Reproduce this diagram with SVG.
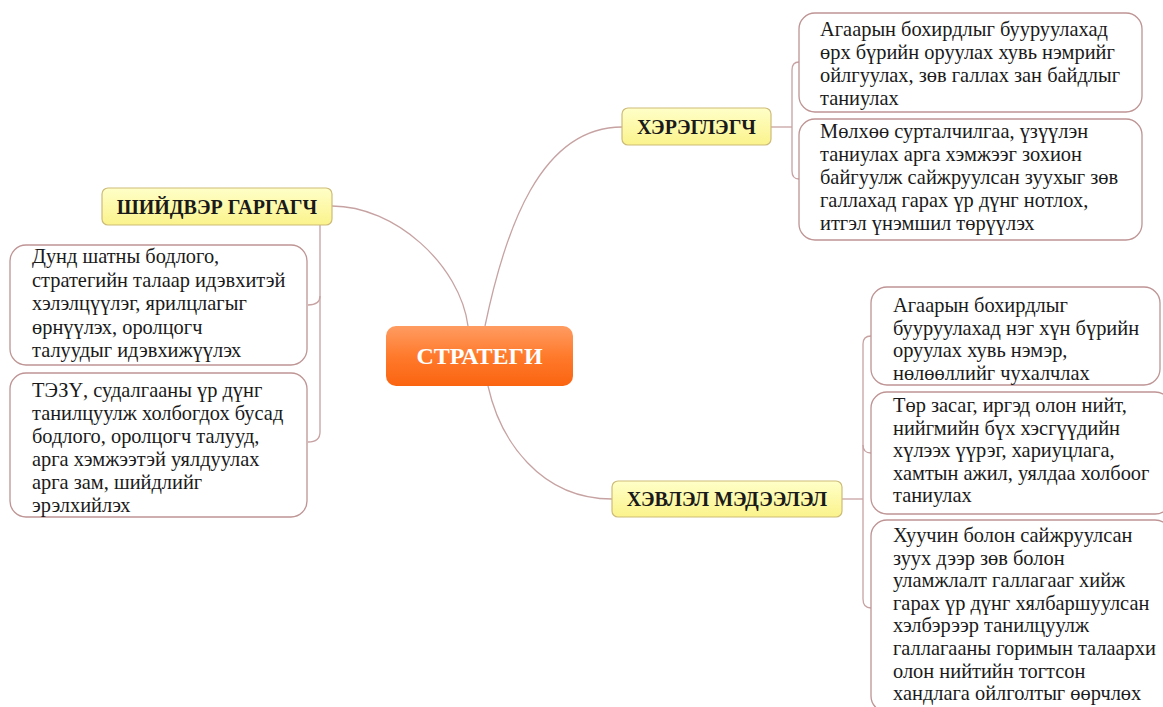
<svg xmlns="http://www.w3.org/2000/svg" width="1163" height="707" viewBox="0 0 1163 707">
<defs>
<linearGradient id="gOrange" x1="0" y1="0" x2="0" y2="1">
<stop offset="0" stop-color="#FF9C62"/>
<stop offset="0.5" stop-color="#FF7A2C"/>
<stop offset="1" stop-color="#FA6410"/>
</linearGradient>
<linearGradient id="gYellow" x1="0" y1="0" x2="0" y2="1">
<stop offset="0" stop-color="#FFFFC8"/>
<stop offset="1" stop-color="#FBF38C"/>
</linearGradient>
<style>
.conn{fill:none;stroke:#C7A2A2;stroke-width:1.3}
.leaf{fill:#FFFFFF;stroke:#BE9494;stroke-width:1.3}
.branch{fill:url(#gYellow);stroke:#CDBB78;stroke-width:1.2}
.lt{font-family:'Liberation Serif','DejaVu Serif',serif;font-size:20.4px;fill:#1A1A1A}
.bt{font-family:'Liberation Serif','DejaVu Serif',serif;font-size:20px;font-weight:bold;fill:#1A1A1A;text-anchor:middle}
.ct{font-family:'Liberation Serif','DejaVu Serif',serif;font-size:24px;font-weight:bold;fill:#FFFFFF;text-anchor:middle}
</style>
</defs>
<rect width="1163" height="707" fill="#FFFFFF"/>
<g id="connectors">
<path class="conn" d="M332,206 C395,206 460,265 468,326"/>
<path class="conn" d="M485,326 C505,230 540,127 622,127"/>
<path class="conn" d="M488,386 C500,440 540,499 612,499"/>
<path class="conn" d="M771,127 H792"/>
<path class="conn" d="M799,62 Q792,62 792,70 V171 Q792,179 799,179"/>
<path class="conn" d="M320,225 V296 Q320,305 308,305"/>
<path class="conn" d="M320,296 V432 Q320,442 308,442"/>
<path class="conn" d="M842,499 H863"/>
<path class="conn" d="M871,336 Q863,336 863,344 V599 Q863,608 871,608"/>
<path class="conn" d="M863,445 Q863,453 871,453"/>
</g>
<g id="center">
<rect x="386" y="326" width="187" height="60" rx="10" fill="url(#gOrange)"/>
<text class="ct" x="479.5" y="364">СТРАТЕГИ</text>
</g>
<g id="hereglegch">
<rect class="branch" x="622" y="108" width="149" height="37" rx="6"/>
<text class="bt" x="696.5" y="134">ХЭРЭГЛЭГЧ</text>
</g>
<g id="shiidver">
<rect class="branch" x="102" y="188" width="230" height="37" rx="6"/>
<text class="bt" x="217" y="214">ШИЙДВЭР ГАРГАГЧ</text>
</g>
<g id="hevlel">
<rect class="branch" x="612" y="481" width="230" height="36" rx="6"/>
<text class="bt" x="727" y="506">ХЭВЛЭЛ МЭДЭЭЛЭЛ</text>
</g>
<g id="h1">
<rect class="leaf" x="799" y="13" width="343" height="99" rx="16"/>
<text class="lt" x="820" y="36"><tspan x="820">Агаарын бохирдлыг бууруулахад</tspan><tspan x="820" dy="23">өрх бүрийн оруулах хувь нэмрийг</tspan><tspan x="820" dy="23">ойлгуулах, зөв галлах зан байдлыг</tspan><tspan x="820" dy="23">таниулах</tspan></text>
</g>
<g id="h2">
<rect class="leaf" x="799" y="119" width="343" height="121" rx="16"/>
<text class="lt" x="820" y="138"><tspan x="820">Мөлхөө сурталчилгаа, үзүүлэн</tspan><tspan x="820" dy="23">таниулах арга хэмжээг зохион</tspan><tspan x="820" dy="23">байгуулж сайжруулсан зуухыг зөв</tspan><tspan x="820" dy="23">галлахад гарах үр дүнг нотлох,</tspan><tspan x="820" dy="23">итгэл үнэмшил төрүүлэх</tspan></text>
</g>
<g id="s1">
<rect class="leaf" x="10" y="245" width="297" height="120" rx="16"/>
<text class="lt" x="32" y="263"><tspan x="32">Дунд шатны бодлого,</tspan><tspan x="32" dy="23.5">стратегийн талаар идэвхитэй</tspan><tspan x="32" dy="23.5">хэлэлцүүлэг, ярилцлагыг</tspan><tspan x="32" dy="23.5">өрнүүлэх, оролцогч</tspan><tspan x="32" dy="23.5">талуудыг идэвхижүүлэх</tspan></text>
</g>
<g id="s2">
<rect class="leaf" x="10" y="373" width="297" height="144" rx="16"/>
<text class="lt" x="32" y="397"><tspan x="32">ТЭЗҮ, судалгааны үр дүнг</tspan><tspan x="32" dy="23">танилцуулж холбогдох бусад</tspan><tspan x="32" dy="23">бодлого, оролцогч талууд,</tspan><tspan x="32" dy="23">арга хэмжээтэй уялдуулах</tspan><tspan x="32" dy="23">арга зам, шийдлийг</tspan><tspan x="32" dy="23">эрэлхийлэх</tspan></text>
</g>
<g id="m1">
<rect class="leaf" x="871" y="287" width="289" height="98" rx="16"/>
<text class="lt" x="893" y="312"><tspan x="893">Агаарын бохирдлыг</tspan><tspan x="893" dy="22.5">бууруулахад нэг хүн бүрийн</tspan><tspan x="893" dy="22.5">оруулах хувь нэмэр,</tspan><tspan x="893" dy="22.5">нөлөөллийг чухалчлах</tspan></text>
</g>
<g id="m2">
<rect class="leaf" x="871" y="392" width="300" height="122" rx="16"/>
<text class="lt" x="893" y="412"><tspan x="893">Төр засаг, иргэд олон нийт,</tspan><tspan x="893" dy="22.5">нийгмийн бүх хэсгүүдийн</tspan><tspan x="893" dy="22.5">хүлээх үүрэг, хариуцлага,</tspan><tspan x="893" dy="22.5">хамтын ажил, уялдаа холбоог</tspan><tspan x="893" dy="22.5">таниулах</tspan></text>
</g>
<g id="m3">
<rect class="leaf" x="871" y="520" width="300" height="192" rx="16"/>
<text class="lt" x="893" y="542"><tspan x="893">Хуучин болон сайжруулсан</tspan><tspan x="893" dy="22.6">зуух дээр зөв болон</tspan><tspan x="893" dy="22.6">уламжлалт галлагааг хийж</tspan><tspan x="893" dy="22.6">гарах үр дүнг хялбаршуулсан</tspan><tspan x="893" dy="22.6">хэлбэрээр танилцуулж</tspan><tspan x="893" dy="22.6">галлагааны горимын талаархи</tspan><tspan x="893" dy="22.6">олон нийтийн тогтсон</tspan><tspan x="893" dy="22.6">хандлага ойлголтыг өөрчлөх</tspan></text>
</g>
</svg>
